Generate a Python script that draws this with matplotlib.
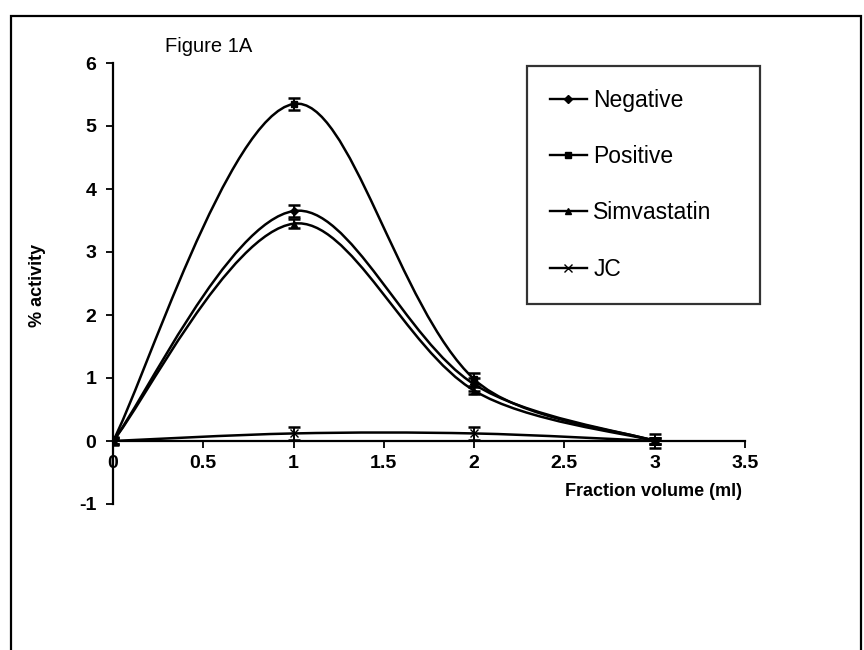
import numpy as np
import matplotlib.pyplot as plt
from matplotlib.path import Path
from matplotlib.patches import PathPatch, Rectangle
from matplotlib.lines import Line2D

plt.rcParams['font.family'] = ['Liberation Sans', 'DejaVu Sans']

# data
fraction = [0, 1, 2, 3]
negative = [0, 3.65, 0.90, 0]
positive = [0, 5.35, 0.98, 0]
simvastatin = [0, 3.45, 0.80, 0]
jc = [0, 0.12, 0.12, 0.0]

negative_err = [0.04, 0.09, 0.10, 0.04]
positive_err = [0.04, 0.10, 0.10, 0.04]
simvastatin_err = [0.04, 0.07, 0.06, 0.04]
jc_err = [0.06, 0.11, 0.11, 0.11]

series = [
    ('Negative', negative, negative_err, 'D', 4),
    ('Positive', positive, positive_err, 's', 4.5),
    ('Simvastatin', simvastatin, simvastatin_err, '^', 5),
    ('JC', jc, jc_err, 'x', 6),
]


def smooth_path(ax, xs, ys):
    # excel-ish smoothed line, control points worked out in screen space
    pts = ax.transData.transform(np.column_stack([xs, ys]))
    n = len(pts)
    verts = [pts[0]]
    codes = [Path.MOVETO]
    for i in range(n - 1):
        p1, p2 = pts[i], pts[i + 1]
        d12 = np.hypot(*(p2 - p1))
        if i == 0:
            c1 = p1 + (p2 - p1) / 6
        else:
            p0 = pts[i - 1]
            d01 = np.hypot(*(p1 - p0))
            c1 = p1 + (p2 - p0) * d12 / (d01 + d12) / 3
        if i + 2 >= n:
            c2 = p2 - (p2 - p1) / 6
        else:
            p3 = pts[i + 2]
            d23 = np.hypot(*(p3 - p2))
            c2 = p2 - (p3 - p1) * d12 / (d12 + d23) / 3
        verts += [c1, c2, p2]
        codes += [Path.CURVE4] * 3
    verts = ax.transData.inverted().transform(np.array(verts))
    return Path(verts, codes)


fig = plt.figure(figsize=(8.64, 6.5), dpi=100)
fig.patches.append(Rectangle((11 / 864, -0.05), 850 / 864, 1.05 - 16 / 650,
                             transform=fig.transFigure, fill=False,
                             edgecolor='black', linewidth=1.6))

ax = fig.add_axes([113 / 864, 1 - 504 / 650, 632 / 864, 441 / 650])
ax.set_xlim(0, 3.5)
ax.set_ylim(-1, 6)

for name, vals, err, mk, ms in series:
    ax.add_patch(PathPatch(smooth_path(ax, fraction, vals), facecolor='none',
                           edgecolor='black', linewidth=1.8))
    ax.errorbar(fraction, vals, yerr=err, fmt='none', ecolor='black',
                elinewidth=1.4, capsize=4, capthick=1.8)
    ax.plot(fraction, vals, linestyle='none', marker=mk, markersize=ms,
            color='black')

ax.set_xticks([0, 0.5, 1, 1.5, 2, 2.5, 3, 3.5])
ax.set_xticklabels(['0', '0.5', '1', '1.5', '2', '2.5', '3', '3.5'])
ax.set_yticks([-1, 0, 1, 2, 3, 4, 5, 6])
ax.set_yticklabels(['-1', '0', '1', '2', '3', '4', '5', '6'])

for s in ['top', 'right']:
    ax.spines[s].set_visible(False)
ax.spines['bottom'].set_position(('data', 0))
ax.spines['left'].set_linewidth(1.6)
ax.spines['bottom'].set_linewidth(1.6)
ax.tick_params(direction='out', length=5, width=1.3, labelsize=14)
ax.tick_params(axis='x', pad=5)
ax.tick_params(axis='y', pad=7)
for lab in ax.get_xticklabels() + ax.get_yticklabels():
    lab.set_fontweight('bold')

fig.text(38 / 864, 1 - 285 / 650, '% activity', rotation=90, ha='center',
         va='center', fontsize=13, fontweight='bold')
fig.text(742 / 864, 1 - 491 / 650, 'Fraction volume (ml)', ha='right',
         va='center', fontsize=13, fontweight='bold')
fig.text(165 / 864, 1 - 46 / 650, 'Figure 1A', fontsize=14.5, va='center')

handles = [Line2D([], [], color='black', linewidth=1.7, marker=mk,
                  markersize=ms) for _, _, _, mk, ms in series]
leg = fig.legend(handles, [s[0] for s in series], loc='upper left',
                 bbox_to_anchor=(527 / 864, 1 - 300 / 650, 233 / 864,
                                 234 / 650),
                 mode='expand', frameon=True,
                 fancybox=False, edgecolor='black', fontsize=16.5,
                 labelspacing=1.45, handlelength=1.6, handletextpad=0.3,
                 borderpad=1.0, borderaxespad=0)
leg.get_frame().set_linewidth(1.6)

fig.savefig('out.png', dpi=100)
